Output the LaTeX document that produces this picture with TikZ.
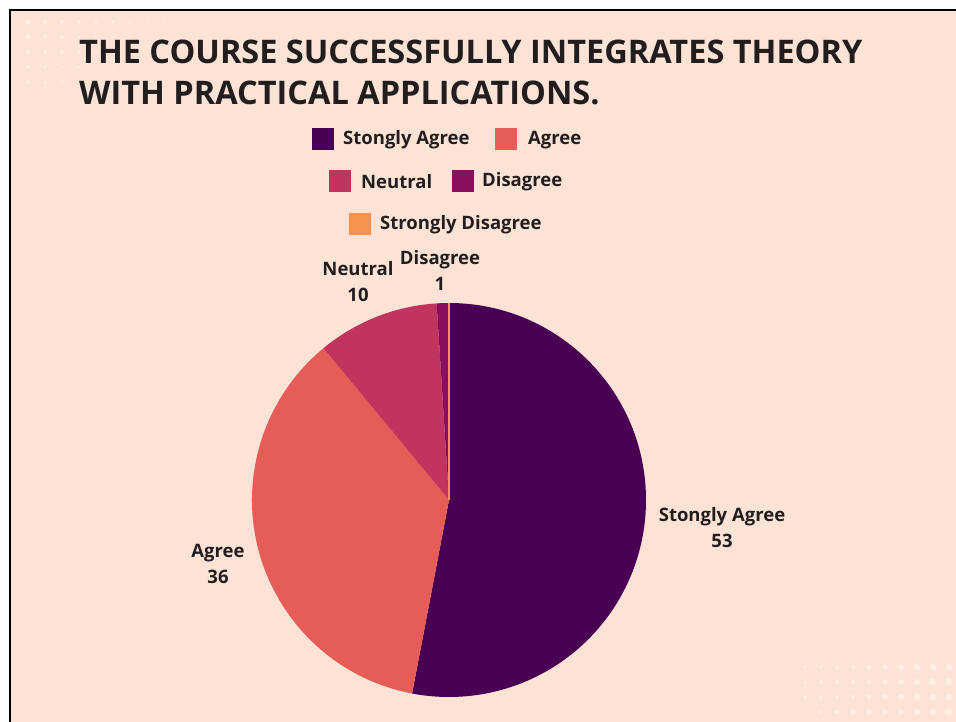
\documentclass[tikz,border=0pt]{standalone}
\usepackage{fontspec}
\setmainfont{Open Sans}
\definecolor{bgpeach}{RGB}{252,227,214}
\definecolor{inkgrey}{RGB}{34,30,30}
\definecolor{sacol}{RGB}{74,0,82}
\definecolor{agcol}{RGB}{230,92,86}
\definecolor{necol}{RGB}{192,52,94}
\definecolor{dicol}{RGB}{138,14,96}
\definecolor{sdcol}{RGB}{246,146,80}
\begin{document}
\begin{tikzpicture}[x=1pt,y=-1pt,
  lbl/.style={font=\fontsize{18.5}{26}\selectfont\bfseries, text=inkgrey, inner sep=0pt},
  key/.style={minimum size=22pt, inner sep=0pt},
  dot/.style={fill=white, opacity=0.45}]
\useasboundingbox (0,0) rectangle (956,722);
\fill[white] (0,0) rectangle (956,722);
\fill[bgpeach] (10,10) rectangle (956,722);
% faint halftone dots
\foreach \i in {0,...,9} \foreach \j in {0,...,4}
  \fill[dot] (28+17*\i,22+15*\j) circle ({2.6-0.22*\i-0.2*\j});
\foreach \i in {0,...,9} \foreach \j in {0,...,3}
  \fill[dot] (805+16*\i,667+15*\j) circle ({1.6+0.22*\i});
\draw[black, line width=2.5pt] (10,722) -- (10,10) -- (956,10);
% title
\node[anchor=north west, inner sep=0pt, align=left, text=inkgrey,
  font=\fontsize{32.5}{41}\selectfont\bfseries] (title) at (79,40)
  {THE COURSE SUCCESSFULLY INTEGRATES THEORY\\WITH PRACTICAL APPLICATIONS.};
% legend
\node[key, fill=sacol] (ksa) at (323,139) {};
\node[lbl, anchor=west] (tsa) at (343,140) {Stongly Agree};
\node[key, fill=agcol] (kag) at (506,139) {};
\node[lbl, anchor=west] (tag) at (528,140) {Agree};
\node[key, fill=necol] (kne) at (340,181) {};
\node[lbl, anchor=west] (tne) at (361,182) {Neutral};
\node[key, fill=dicol] (kdi) at (463,181) {};
\node[lbl, anchor=west] (tdi) at (482,182) {Disagree};
\node[key, fill=sdcol] (ksd) at (360,224) {};
\node[lbl, anchor=west] (tsd) at (380,225) {Strongly Disagree};
% pie
\coordinate (pc) at (449,500);
\begin{scope}[shift={(pc)}, yscale=-1]
\fill[sacol] (0,0) -- (90:197) arc[start angle=90, end angle=-100.8, radius=197] -- cycle;
\fill[agcol] (0,0) -- (-100.8:197) arc[start angle=-100.8, end angle=-230.4, radius=197] -- cycle;
\fill[necol] (0,0) -- (129.6:197) arc[start angle=129.6, end angle=93.6, radius=197] -- cycle;
\fill[dicol] (0,0) -- (93.6:197) arc[start angle=93.6, end angle=90, radius=197] -- cycle;
\draw[sdcol, line width=2pt] (0,0) -- (90:197);
\end{scope}
% slice labels
\node[lbl, align=center] (lsa) at (722,528) {Stongly Agree\\53};
\node[lbl, align=center] (lag) at (218,564) {Agree\\36};
\node[lbl, align=center] (lne) at (358,282) {Neutral\\10};
\node[lbl, align=center] (ldi) at (440,270) {Disagree\\1};
\end{tikzpicture}
\end{document}
